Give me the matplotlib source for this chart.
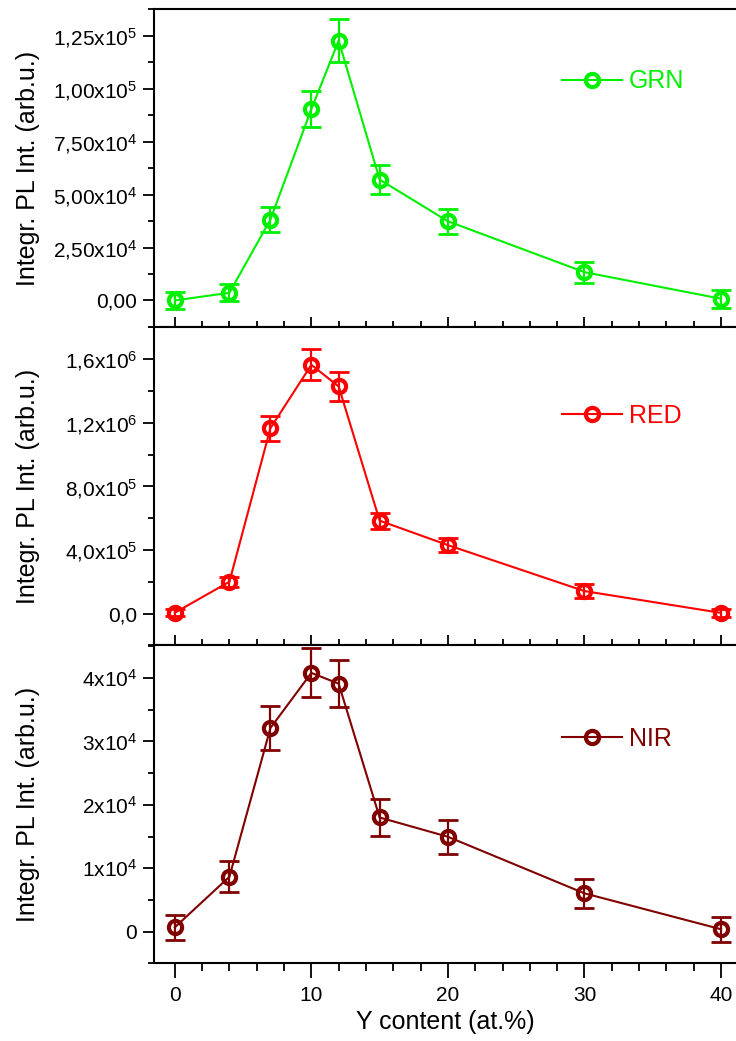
import matplotlib
matplotlib.use("Agg")
import matplotlib.pyplot as plt
from matplotlib.ticker import MultipleLocator, FuncFormatter
import numpy as np

# Y content (at.%)
y_content = [0, 4, 7, 10, 12, 15, 20, 30, 40]

grn = [0, 3.6e3, 3.82e4, 9.04e4, 1.228e5, 5.71e4, 3.74e4, 1.336e4, 800]
grn_err = [3.9e3, 4.1e3, 6.0e3, 8.6e3, 1.0e4, 6.8e3, 6.0e3, 4.9e3, 4.2e3]

red = [5e3, 2.0e5, 1.165e6, 1.564e6, 1.428e6, 5.84e5, 4.3e5, 1.41e5, 4e3]
red_err = [2.3e4, 3.1e4, 7.9e4, 9.8e4, 9.0e4, 5.0e4, 4.4e4, 4.2e4, 2.3e4]

nir = [680, 8.66e3, 3.21e4, 4.08e4, 3.91e4, 1.8e4, 1.496e4, 6.04e3, 380]
nir_err = [1.97e3, 2.4e3, 3.5e3, 3.86e3, 3.7e3, 2.9e3, 2.7e3, 2.3e3, 2.0e3]

names = ["GRN", "RED", "NIR"]
colors = ["#00F000", "#FF0000", "#800000"]

plt.rcParams['font.family'] = ['Liberation Sans', 'DejaVu Sans']
plt.rcParams['mathtext.default'] = 'regular'


def sci_fmt(decimals):
    # tick labels like 1,25x10^5 with comma decimal
    def f(v, pos):
        if abs(v) < 1e-9:
            return "0" if decimals < 0 else "0," + "0" * decimals
        exp = int(np.floor(np.log10(abs(v))))
        mant = v / 10 ** exp
        if decimals < 0:
            s = "%d" % round(mant)
        else:
            s = ("%." + str(decimals) + "f") % mant
            s = s.replace(".", ",")
        return s + "x10$^{%d}$" % exp
    return FuncFormatter(f)


fig = plt.figure(figsize=(7.36, 10.41), dpi=100)
gs = fig.add_gridspec(3, 1, left=0.2097, right=1.0, top=0.9911, bottom=0.0746, hspace=0)
axes = [fig.add_subplot(gs[i]) for i in range(3)]

series = [(grn, grn_err), (red, red_err), (nir, nir_err)]
ylims = [(-1.27e4, 1.376e5), (-2.0e5, 1.8e6), (-5.0e3, 4.515e4)]
majors = [2.5e4, 4e5, 1e4]
decs = [2, 1, -1]
leg_y = [0.773, 0.722, 0.705]

for i, ax in enumerate(axes):
    vals, errs = series[i]
    c = colors[i]
    ax.errorbar(y_content, vals, yerr=errs, fmt='none', ecolor=c, elinewidth=1.6,
                capsize=7, capthick=2.0, zorder=2)
    ax.plot(y_content, vals, color=c, lw=1.5, marker='o', ms=9.5, mfc='none',
            mec=c, mew=3.0, label=names[i], zorder=3)
    ax.set_xlim(-1.5, 41.1)
    ax.set_ylim(*ylims[i])
    ax.yaxis.set_major_locator(MultipleLocator(majors[i]))
    ax.yaxis.set_minor_locator(MultipleLocator(majors[i] / 2))
    ax.yaxis.set_major_formatter(sci_fmt(decs[i]))
    ax.xaxis.set_major_locator(MultipleLocator(10))
    ax.xaxis.set_minor_locator(MultipleLocator(2))
    for s in ax.spines.values():
        s.set_linewidth(1.5)
    ax.spines['right'].set_visible(False)
    ax.tick_params(axis='y', which='major', direction='out', length=8, width=1.3,
                   labelsize=15, pad=4.5)
    ax.tick_params(axis='y', which='minor', direction='out', length=4.3, width=1.3)
    if i < 2:
        ax.tick_params(axis='x', which='major', direction='inout', length=14, width=1.3,
                       labelbottom=False)
        ax.tick_params(axis='x', which='minor', direction='inout', length=8, width=1.3)
    else:
        ax.tick_params(axis='x', which='major', direction='out', length=11, width=1.3,
                       labelsize=15, pad=5)
        ax.tick_params(axis='x', which='minor', direction='out', length=6, width=1.3)
    ax.set_ylabel("Integr. PL Int. (arb.u.)", fontsize=18)
    ax.yaxis.set_label_coords(-0.197, 0.5)
    ax.legend(loc='center left', bbox_to_anchor=(0.70, leg_y[i]), frameon=False,
              fontsize=18, handlelength=2.4, handletextpad=0.3, borderpad=0,
              borderaxespad=0, labelcolor=c)

axes[2].set_xlabel("Y content (at.%)", fontsize=18, labelpad=4)

fig.savefig("out.png", dpi=100)
